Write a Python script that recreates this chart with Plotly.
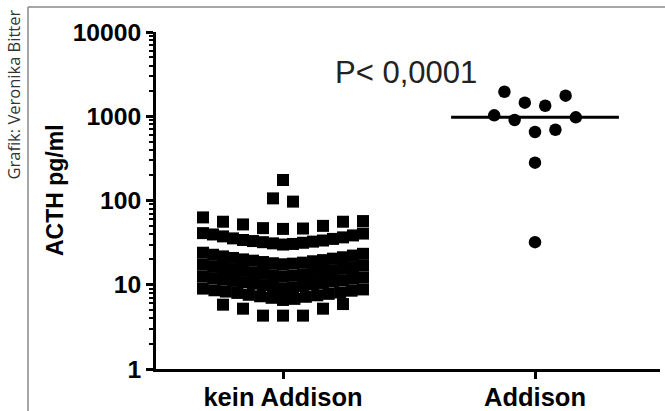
import numpy as np
import plotly.graph_objects as go

# ---------------- data ----------------
categories = ["kein Addison", "Addison"]
tick_vals = [1, 10, 100, 1000, 10000]
tick_text = ["1", "10", "100", "1000", "10000"]

# ACTH (pg/ml) in data-entry order
kein_addison = [
    175, 97, 106,
    46, 46.5, 47, 50, 52, 56, 56, 57, 63,
    30, 30.5, 31, 31.5, 32, 32.5, 33, 33.5, 34, 35, 35.5, 36.5, 37.5, 38.5, 39.5, 40.5, 41,
    17.5, 17.8, 18, 18.3, 18.6, 19, 19.3, 19.6, 20, 20.4, 20.8, 21.2, 21.7, 22.2, 22.7, 23.3, 24,
    12.6, 12.8, 13, 13.3, 13.5, 13.8, 14, 14.3, 14.6, 14.9, 15.2, 15.5, 15.8, 16.2, 16.5, 16.9, 17.3,
    9.1, 9.3, 9.5, 9.7, 9.9, 10.1, 10.3, 10.5, 10.7, 10.9, 11.1, 11.3, 11.5, 11.8, 12, 12.2, 12.5,
    6.6, 6.8, 7, 7.2, 7.3, 7.5, 7.6, 7.8, 8, 8.1, 8.3, 8.5, 8.6, 8.8, 9.0,
    4.3, 4.3, 4.3, 5.2, 5.2, 5.9, 5.8,
]
addison = [650, 1334, 1449, 692, 902, 1754, 1955, 970, 1026, 281, 32]
p_text = "P< 0,0001"

# ---------------- layout constants ----------------
W, H = 665, 411
ML, MR, MT, MB = 156, 5, 32, 42
X_RANGE = [-0.504, 1.496]
PW = W - ML - MR
PH = H - MT - MB
PX_PER_UNIT = PW / (X_RANGE[1] - X_RANGE[0])


def swarm_offsets(values, bin_w, max_sp, row_width):
    """Prism-like column scatter: group by value into rows, spread each row
    around the centre in data order (centre, right, left, ...)."""
    logs = np.log10(np.asarray(values, dtype=float))
    order = np.argsort(-logs, kind="stable")
    rows, cur, top = [], [], None
    for i in order:
        if top is None or top - logs[i] >= bin_w:
            if cur:
                rows.append(cur)
            cur, top = [i], logs[i]
        else:
            cur.append(i)
    rows.append(cur)
    off = np.zeros(len(values))
    for r in rows:
        r = sorted(r)
        n = len(r)
        sp = max_sp if n < 2 else min(max_sp, row_width / (n - 1))
        for k, idx in enumerate(r):
            if n % 2 == 1:
                m = (k + 1) // 2
                s = 1 if k % 2 == 1 else -1
            else:
                m = k // 2 + 0.5
                s = 1 if k % 2 == 0 else -1
            off[idx] = s * m * sp
    return off / PX_PER_UNIT


x_kein = 0 + swarm_offsets(kein_addison, 0.14, 20, 160)
x_add = 1 + swarm_offsets(addison, 0.5, 10.2, 160)
median_add = float(np.median(addison))
MEDIAN_HALF = 0.333

fig = go.Figure()
fig.add_trace(go.Scatter(
    x=x_kein, y=kein_addison, mode="markers",
    marker=dict(symbol="square", size=12, color="black", line=dict(width=0)),
    showlegend=False, hoverinfo="y"))
fig.add_trace(go.Scatter(
    x=[1 - MEDIAN_HALF, 1 + MEDIAN_HALF], y=[median_add, median_add],
    mode="lines", line=dict(color="black", width=3), showlegend=False, hoverinfo="skip"))
fig.add_trace(go.Scatter(
    x=x_add, y=addison, mode="markers",
    marker=dict(symbol="circle", size=12.5, color="black", line=dict(width=0)),
    showlegend=False, hoverinfo="y"))

FAM = "Liberation Sans, Arial, sans-serif"

fig.update_layout(
    width=W, height=H,
    margin=dict(l=ML, r=MR, t=MT, b=MB, pad=0),
    paper_bgcolor="white", plot_bgcolor="white",
    xaxis=dict(
        range=X_RANGE, tickvals=[0, 1], ticktext=categories, automargin=False,
        showline=True, linecolor="black", linewidth=2.5,
        ticks="outside", ticklen=7, tickwidth=2.5, tickcolor="black",
        ticklabelstandoff=-3,
        showgrid=False, zeroline=False,
        tickfont=dict(family=FAM, size=25.5, color="black", weight="bold"),
    ),
    yaxis=dict(
        type="log", range=[0, 4], tickvals=tick_vals, ticktext=tick_text, automargin=False,
        showline=True, linecolor="black", linewidth=2.5,
        ticks="outside", ticklen=7, tickwidth=2.5, tickcolor="black",
        showgrid=False, zeroline=False,
        tickfont=dict(family=FAM, size=24.7, color="black", weight="bold"),
        minor=dict(ticks="outside", ticklen=4, tickwidth=1.5, tickcolor="black",
                   dtick="D1", showgrid=False),
    ),
    annotations=[
        dict(text="ACTH pg/ml", textangle=-90, xref="paper", yref="paper",
             x=(55 - ML) / PW, y=(369 - 190) / PH, xanchor="center", yanchor="middle",
             showarrow=False,
             font=dict(family=FAM, size=23, color="black", weight="bold")),
        dict(text=p_text, xref="paper", yref="paper",
             x=(406 - ML) / PW, y=(369 - 72) / PH, xanchor="center", yanchor="middle",
             showarrow=False,
             font=dict(family=FAM, size=31, color="#222")),
        dict(text="Grafik: Veronika Bitter", textangle=-90, xref="paper", yref="paper",
             x=(12.5 - ML) / PW, y=(369 - 95) / PH,
             xanchor="center", yanchor="middle", showarrow=False,
             font=dict(family="Open Sans, sans-serif", size=16.5, color="#333")),
    ],
    shapes=[
        dict(type="line", xref="paper", yref="paper",
             x0=(28 - ML) / PW, x1=(28 - ML) / PW,
             y0=-0.2, y1=(369 - 7) / PH,
             line=dict(color="#888", width=1.5)),
        dict(type="line", xref="paper", yref="paper",
             x0=(28 - ML) / PW, x1=1.05,
             y0=(369 - 7) / PH, y1=(369 - 7) / PH,
             line=dict(color="#888", width=1.5)),
    ],
)

fig.write_html("out.html", config={"displayModeBar": False},
               post_script="document.body.style.margin='0';document.body.style.overflow='hidden';")
